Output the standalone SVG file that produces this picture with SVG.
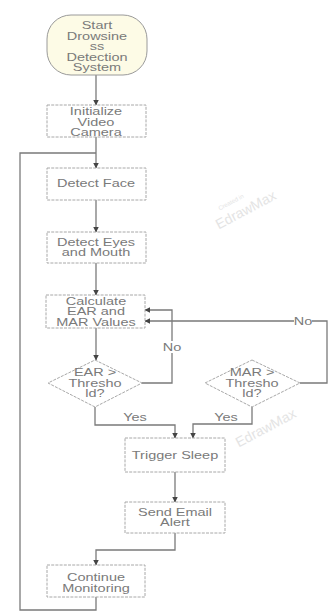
<svg xmlns="http://www.w3.org/2000/svg" width="328" height="612" viewBox="0 0 328 612">
<style>
.box{fill:#ffffff;stroke:#a8a8a8;stroke-width:1;stroke-dasharray:3 1.2}
.start{fill:#fdfbe6;stroke:#9a9a9a;stroke-width:1}
.t{font-family:"Liberation Sans",Arial,sans-serif;font-size:10px;fill:#7a7a7a;text-anchor:middle}
.c{fill:none;stroke:#7a7a7a;stroke-width:1.3}
.wm{font-family:"Liberation Sans",Arial,sans-serif;fill:#e4e4e4;text-anchor:middle}
</style>
<defs>
<marker id="a" viewBox="0 0 6 6" refX="5.5" refY="3" markerWidth="4.5" markerHeight="4.5" orient="auto" markerUnits="strokeWidth">
<path d="M0,0 L6,3 L0,6 z" fill="#444"/>
</marker>
</defs>
<rect width="328" height="612" fill="#ffffff"/>
<g id="watermarks">
<text class="wm" font-size="14" transform="translate(248,214) rotate(-28)">EdrawMax</text>
<text class="wm" font-size="6" transform="translate(232,204) rotate(-28)">Created in</text>
<text class="wm" font-size="14" transform="translate(268,432) rotate(-28)">EdrawMax</text>
</g>
<g id="connectors">
<path class="c" d="M96,75 V105" marker-end="url(#a)"/>
<path class="c" d="M96,137 V168" marker-end="url(#a)"/>
<path class="c" d="M96,200 V232" marker-end="url(#a)"/>
<path class="c" d="M96,263 V295" marker-end="url(#a)"/>
<path class="c" d="M96,328 V360" marker-end="url(#a)"/>
<path class="c" d="M142,383 H172 V310 H145" marker-end="url(#a)"/>
<path class="c" d="M300,383 H327 V321 H145" marker-end="url(#a)"/>
<path class="c" d="M95,407 V425 H175 V438" marker-end="url(#a)"/>
<path class="c" d="M252,407 V424 H193 V438" marker-end="url(#a)"/>
<path class="c" d="M175,472 V502" marker-end="url(#a)"/>
<path class="c" d="M175,533 V550 H96 V565" marker-end="url(#a)"/>
<path class="c" d="M96,597 V610 H20 V153 H96"/>
<rect x="163" y="341" width="18" height="12" fill="#ffffff"/>
<text class="t" transform="matrix(1.45,0,0,1,172,350.5)">No</text>
<rect x="294" y="315" width="18" height="12" fill="#ffffff"/>
<text class="t" transform="matrix(1.45,0,0,1,303,324.5)">No</text>
<text class="t" transform="matrix(1.45,0,0,1,135,420.5)">Yes</text>
<text class="t" transform="matrix(1.45,0,0,1,226,420.5)">Yes</text>
</g>
<g id="start">
<rect class="start" x="47" y="15" width="100" height="60" rx="24" ry="24"/>
<text class="t" transform="matrix(1.45,0,0,1,97,28.5)">Start</text>
<text class="t" transform="matrix(1.45,0,0,1,97,39.5)">Drowsine</text>
<text class="t" transform="matrix(1.45,0,0,1,97,50)">ss</text>
<text class="t" transform="matrix(1.45,0,0,1,97,60.5)">Detection</text>
<text class="t" transform="matrix(1.45,0,0,1,97,71)">System</text>
</g>
<g id="init">
<rect class="box" x="47" y="105" width="99" height="32"/>
<text class="t" transform="matrix(1.45,0,0,1,96,115)">Initialize</text>
<text class="t" transform="matrix(1.45,0,0,1,96,125.5)">Video</text>
<text class="t" transform="matrix(1.45,0,0,1,96,136)">Camera</text>
</g>
<g id="face">
<rect class="box" x="47" y="168" width="99" height="32"/>
<text class="t" transform="matrix(1.45,0,0,1,96,187)">Detect Face</text>
</g>
<g id="eyes">
<rect class="box" x="47" y="232" width="99" height="31"/>
<text class="t" transform="matrix(1.45,0,0,1,96,245.5)">Detect Eyes</text>
<text class="t" transform="matrix(1.45,0,0,1,96,256)">and Mouth</text>
</g>
<g id="calc">
<rect class="box" x="46" y="295" width="99" height="33"/>
<text class="t" transform="matrix(1.45,0,0,1,96,304.5)">Calculate</text>
<text class="t" transform="matrix(1.45,0,0,1,96,315)">EAR and</text>
<text class="t" transform="matrix(1.45,0,0,1,96,325.5)">MAR Values</text>
</g>
<g id="ear">
<polygon class="box" points="95,360 142,383 95,407 48,383"/>
<text class="t" transform="matrix(1.45,0,0,1,95,375.5)">EAR &gt;</text>
<text class="t" transform="matrix(1.45,0,0,1,95,386.5)">Thresho</text>
<text class="t" transform="matrix(1.45,0,0,1,95,397)">ld?</text>
</g>
<g id="mar">
<polygon class="box" points="252,360 300,383 252,407 205,383"/>
<text class="t" transform="matrix(1.45,0,0,1,252,375.5)">MAR &gt;</text>
<text class="t" transform="matrix(1.45,0,0,1,252,386.5)">Thresho</text>
<text class="t" transform="matrix(1.45,0,0,1,252,397)">ld?</text>
</g>
<g id="sleep">
<rect class="box" x="125" y="438" width="100" height="34"/>
<text class="t" transform="matrix(1.45,0,0,1,175,458.5)">Trigger Sleep</text>
</g>
<g id="email">
<rect class="box" x="125" y="502" width="100" height="31"/>
<text class="t" transform="matrix(1.45,0,0,1,175,515.5)">Send Email</text>
<text class="t" transform="matrix(1.45,0,0,1,175,526)">Alert</text>
</g>
<g id="continue">
<rect class="box" x="47" y="565" width="98" height="32"/>
<text class="t" transform="matrix(1.45,0,0,1,96,580.5)">Continue</text>
<text class="t" transform="matrix(1.45,0,0,1,96,591.5)">Monitoring</text>
</g>
</svg>
